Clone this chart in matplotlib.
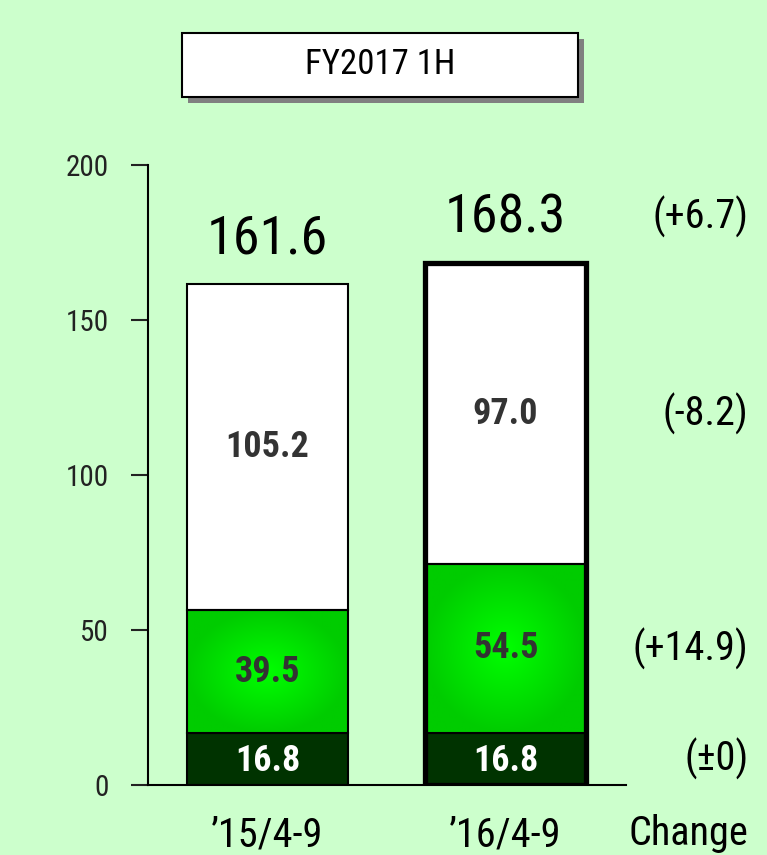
import numpy as np
import matplotlib.pyplot as plt
from matplotlib.patches import Rectangle
from matplotlib import font_manager

# dati
periods = ['\u201915/4-9', '\u201916/4-9']
base = [16.8, 16.8]        # segmento scuro
middle = [39.5, 54.5]      # segmento verde
top = [105.2, 97.0]        # segmento bianco
totals = [161.6, 168.3]
changes = ['(\u00b10)', '(+14.9)', '(-8.2)', '(+6.7)']
yticks = [0, 50, 100, 150, 200]

names = {f.name for f in font_manager.fontManager.ttflist}
narrow = 'Liberation Sans Narrow' if 'Liberation Sans Narrow' in names else 'Roboto Condensed'
plt.rcParams['font.family'] = [narrow, 'Liberation Sans', 'DejaVu Sans']

bg = '#ccffcc'
fig = plt.figure(figsize=(7.67, 8.55), dpi=100, facecolor=bg)
ax = fig.add_axes([148/767, 70/855, 478/767, 620/855])
ax.set_facecolor(bg)

x = np.arange(len(periods))
w = 0.676

# gradiente radiale per il segmento verde
yy, xx = np.mgrid[-1:1:200j, -1:1:200j]
r = np.clip(np.sqrt(xx**2 + yy**2), 0, 1)
c0 = np.array([0.0, 1.0, 0.0])
c1 = np.array([0.0, 0.80, 0.0])
grad = c0[None, None, :] * (1 - r[..., None]) + c1[None, None, :] * r[..., None]

for i in range(len(x)):
    ax.bar(x[i], base[i], w, color='#003300', edgecolor='black', linewidth=1.5, zorder=2)
    rect = ax.bar(x[i], middle[i], w, bottom=base[i], color='none',
                  edgecolor='black', linewidth=1.5, zorder=3)[0]
    im = ax.imshow(grad, extent=(x[i]-w/2, x[i]+w/2, base[i], base[i]+middle[i]),
                   aspect='auto', zorder=2, interpolation='bilinear')
    im.set_clip_path(rect)
    ax.bar(x[i], top[i], w, bottom=base[i]+middle[i], color='white',
           edgecolor='black', linewidth=1.5, zorder=2)

    ax.text(x[i], base[i]/2 - 0.8, f'{base[i]:.1f}', ha='center', va='center',
            color='white', fontsize=26, fontweight='bold', zorder=5)
    ax.text(x[i], base[i]+middle[i]/2, f'{middle[i]:.1f}', ha='center', va='center',
            color='#333333', fontsize=26, fontweight='bold', zorder=5)
    ax.text(x[i], base[i]+middle[i]+top[i]/2, f'{top[i]:.1f}', ha='center', va='center',
            color='#333333', fontsize=26, fontweight='bold', zorder=5)
    ax.text(x[i], totals[i]+14.5, f'{totals[i]:.1f}', ha='center', va='center',
            color='black', fontsize=39, zorder=5, clip_on=False)

# bordo spesso sul periodo corrente
ax.bar(x[1], totals[1], w, color='none', edgecolor='black', linewidth=3.8, zorder=4)

# colonna delle variazioni
ypos = [base[1]/2, base[1]+middle[1]/2, base[1]+middle[1]+top[1]/2, totals[1]+15]
for yv, s in zip(ypos, changes):
    ax.text(2.02, yv, s, ha='right', va='center', fontsize=29, clip_on=False)

ax.set_xlim(-0.502, 1.506)
ax.set_ylim(0, 200)
ax.set_yticks(yticks)
ax.tick_params(axis='y', labelsize=21, length=12, width=1.5, pad=16, colors='#222222')
ax.set_xticks(x)
ax.set_xticklabels(periods, fontsize=29)
ax.tick_params(axis='x', length=0, pad=22)
ax.text(2.02, -15.5, 'Change', ha='right', va='center', fontsize=29, clip_on=False)
for s in ['top', 'right']:
    ax.spines[s].set_visible(False)
ax.spines['left'].set_linewidth(1.5)
ax.spines['bottom'].set_linewidth(1.5)

# riquadro del titolo con ombra
bx, by, bw, bh = 182/767, 1-97/855, 396/767, 64/855
fig.patches.append(Rectangle((bx+6/767, by-6/855), bw, bh, transform=fig.transFigure,
                             facecolor='#808080', edgecolor='none'))
fig.patches.append(Rectangle((bx, by), bw, bh, transform=fig.transFigure,
                             facecolor='white', edgecolor='black', linewidth=1.5))
fig.text(bx+bw/2, by+bh/2, 'FY2017 1H', ha='center', va='center', fontsize=25)

fig.savefig('out.png', dpi=100, facecolor=bg)
